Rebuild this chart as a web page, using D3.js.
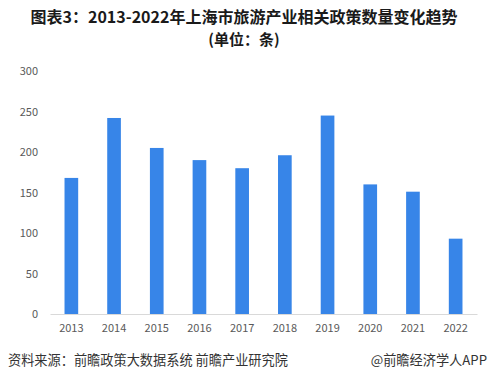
<!DOCTYPE html>
<html><head><meta charset="utf-8">
<script src="https://cdn.jsdelivr.net/npm/d3@7/dist/d3.min.js"></script>
<style>body{margin:0;background:#fff;}svg{display:block;}</style>
</head><body>
<script>
const years = ["2013","2014","2015","2016","2017","2018","2019","2020","2021","2022"];
const counts = [168, 242, 205, 190, 180, 196, 245, 160, 151, 93];
const yTicks = [0, 50, 100, 150, 200, 250, 300];
const titleLines = ["图表3：2013-2022年上海市旅游产业相关政策数量变化趋势", "(单位：条)"];
const sourceText = "资料来源：前瞻政策大数据系统 前瞻产业研究院";
const brandText = "@前瞻经济学人APP";

const W = 488, H = 380;
const m = {left: 50, right: 11, top: 71, bottom: 66};
const svg = d3.select("body").append("svg").attr("width", W).attr("height", H);
const font = "'Noto Sans CJK SC', 'Noto Sans', sans-serif";

const x = d3.scaleBand().domain(years).range([m.left, W - m.right]).paddingInner(0.68).paddingOuter(0.34);
const y = d3.scaleLinear().domain([0, 300]).range([H - m.bottom, m.top]);

// title
const titleY = [23, 45.4], titleSize = [16, 15];
svg.append("g").selectAll("text").data(titleLines).join("text")
  .attr("x", 244).attr("y", (d, i) => titleY[i])
  .attr("text-anchor", "middle")
  .attr("font-family", font).attr("font-weight", "bold").attr("font-size", (d, i) => titleSize[i])
  .attr("fill", "#1a1a1a").text(d => d);

// bars
svg.append("g").selectAll("rect").data(counts).join("rect")
  .attr("x", (d, i) => x(years[i]))
  .attr("width", x.bandwidth())
  .attr("y", d => y(d))
  .attr("height", d => y(0) - y(d))
  .attr("fill", "#3785E8");

// y axis
const ya = svg.append("g").attr("transform", `translate(${m.left - 12},0)`)
  .call(d3.axisLeft(y).tickValues(yTicks).tickSize(0).tickPadding(0));
ya.select(".domain").remove();
ya.selectAll("text").attr("font-family", font).attr("font-size", 11).attr("fill", "#595959");

// x axis
const xa = svg.append("g").attr("transform", `translate(0,${y(0)})`)
  .call(d3.axisBottom(x).tickSize(0).tickPadding(10));
xa.select(".domain").attr("stroke", "#d9d9d9").attr("stroke-width", 1);
xa.selectAll("text").attr("font-family", font).attr("font-size", 11).attr("fill", "#595959");

// footer
svg.append("text").attr("x", 8).attr("y", 365)
  .attr("font-family", font).attr("font-size", 13.2).attr("fill", "#333").text(sourceText);
svg.append("text").attr("x", 487).attr("y", 365).attr("text-anchor", "end")
  .attr("font-family", font).attr("font-size", 13.2).attr("fill", "#333").text(brandText);
</script>
</body></html>
